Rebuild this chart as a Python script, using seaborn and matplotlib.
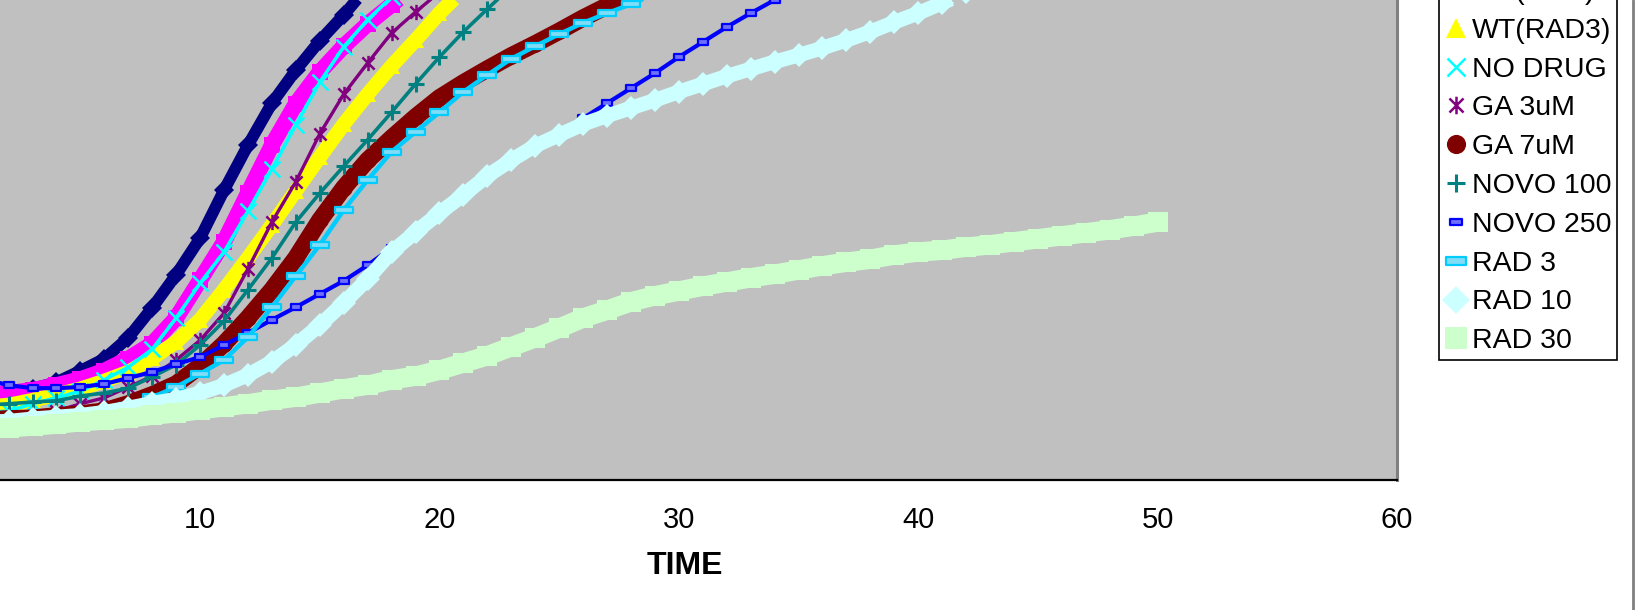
import numpy as np
import pandas as pd
import matplotlib
matplotlib.use("Agg")
import matplotlib.pyplot as plt
from matplotlib.path import Path
from matplotlib.lines import Line2D
import seaborn as sns

# ---- growth curves (time in hours, optical density) ----
TIME = list(range(1, 51))

WT = [0.145, 0.147, 0.152, 0.163, 0.182, 0.202, 0.237, 0.287, 0.342, 0.403,
      0.483, 0.558, 0.628, 0.683, 0.732, 0.775, 0.822]
WT_RAD = [0.142, 0.145, 0.150, 0.158, 0.168, 0.182, 0.202, 0.227, 0.270, 0.333,
          0.397, 0.478, 0.558, 0.627, 0.680, 0.723, 0.760, 0.792, 0.825]
WT_RAD3 = [0.122, 0.125, 0.133, 0.142, 0.152, 0.165, 0.180, 0.203, 0.230, 0.267,
           0.317, 0.370, 0.425, 0.482, 0.538, 0.593, 0.643, 0.690, 0.733, 0.778,
           0.817]
NO_DRUG = [0.112, 0.115, 0.127, 0.137, 0.148, 0.167, 0.188, 0.218, 0.270, 0.328,
           0.380, 0.448, 0.518, 0.592, 0.663, 0.722, 0.767, 0.805]
GA_3 = [0.102, 0.103, 0.107, 0.115, 0.127, 0.137, 0.155, 0.173, 0.200, 0.233,
        0.278, 0.352, 0.430, 0.497, 0.577, 0.643, 0.695, 0.745, 0.780, 0.813]
GA_7 = [0.100, 0.102, 0.103, 0.107, 0.110, 0.115, 0.127, 0.142, 0.160, 0.190,
        0.227, 0.270, 0.317, 0.370, 0.433, 0.487, 0.533, 0.570, 0.605, 0.637,
        0.662, 0.685, 0.707, 0.727, 0.748, 0.770, 0.790, 0.808]
NOVO_100 = [0.125, 0.127, 0.130, 0.132, 0.140, 0.145, 0.153, 0.172, 0.192, 0.225,
            0.265, 0.317, 0.370, 0.430, 0.478, 0.523, 0.567, 0.613, 0.660, 0.705,
            0.747, 0.785, 0.822]
NOVO_250 = [0.168, 0.158, 0.153, 0.153, 0.155, 0.160, 0.170, 0.180, 0.193, 0.205,
            0.225, 0.245, 0.267, 0.288, 0.310, 0.332, 0.358, 0.387, 0.415, 0.443,
            0.473, 0.503, 0.530, 0.555, 0.578, 0.603, 0.628, 0.653, 0.678, 0.705,
            0.730, 0.755, 0.778, 0.800, 0.822]
RAD_3 = [0.095, 0.097, 0.098, 0.102, 0.107, 0.113, 0.123, 0.138, 0.155, 0.177,
         0.200, 0.238, 0.288, 0.340, 0.392, 0.450, 0.500, 0.547, 0.580, 0.613,
         0.647, 0.675, 0.702, 0.723, 0.743, 0.762, 0.778, 0.793, 0.810]
RAD_10 = [0.097, 0.098, 0.102, 0.105, 0.108, 0.113, 0.120, 0.128, 0.135, 0.145,
          0.158, 0.175, 0.197, 0.225, 0.258, 0.295, 0.335, 0.380, 0.413, 0.445,
          0.475, 0.507, 0.533, 0.557, 0.575, 0.593, 0.607, 0.620, 0.633, 0.647,
          0.660, 0.673, 0.685, 0.697, 0.708, 0.720, 0.733, 0.747, 0.763, 0.778,
          0.795, 0.813]
RAD_30 = [0.085, 0.087, 0.090, 0.093, 0.097, 0.100, 0.103, 0.108, 0.112, 0.117,
          0.122, 0.127, 0.133, 0.138, 0.145, 0.152, 0.158, 0.167, 0.173, 0.183,
          0.195, 0.207, 0.222, 0.237, 0.253, 0.270, 0.283, 0.297, 0.307, 0.315,
          0.323, 0.330, 0.337, 0.343, 0.350, 0.357, 0.363, 0.368, 0.375, 0.380,
          0.383, 0.388, 0.392, 0.397, 0.402, 0.407, 0.412, 0.417, 0.423, 0.430]

LABELS = ["WT", "WT(RAD)", "WT(RAD3)", "NO DRUG", "GA 3uM", "GA 7uM",
          "NOVO 100", "NOVO 250", "RAD 3", "RAD 10", "RAD 30"]
SERIES = [WT, WT_RAD, WT_RAD3, NO_DRUG, GA_3, GA_7,
          NOVO_100, NOVO_250, RAD_3, RAD_10, RAD_30]
COLORS = ["#000080", "#FF00FF", "#FFFF00", "#00FFFF", "#800080", "#800000",
          "#008080", "#0000FF", "#00CCFF", "#CCFFFF", "#CCFFCC"]

# ---- custom marker shapes ----
ASTERISK = Path([(-1, -1), (1, 1), (-1, 1), (1, -1), (0, -1.25), (0, 1.25)],
                [Path.MOVETO, Path.LINETO] * 3)
SHORT_BAR = Path([(-1, -0.55), (1, -0.55), (1, 0.55), (-1, 0.55), (-1, -0.55)],
                 [Path.MOVETO, Path.LINETO, Path.LINETO, Path.LINETO, Path.CLOSEPOLY])
LONG_BAR = Path([(-1, -0.35), (1, -0.35), (1, 0.35), (-1, 0.35), (-1, -0.35)],
                [Path.MOVETO, Path.LINETO, Path.LINETO, Path.LINETO, Path.CLOSEPOLY])

# per-series drawing style: line width, marker, marker size, face, edge width
STYLES = [
    dict(lw=8.5, marker="D", ms=10, mfc=None, mew=0),
    dict(lw=11.5, marker="s", ms=11, mfc=None, mew=0),
    dict(lw=10.5, marker="^", ms=12, mfc=None, mew=0),
    dict(lw=2.6, marker="x", ms=11, mfc=None, mew=1.8),
    dict(lw=2.4, marker=ASTERISK, ms=11, mfc="none", mew=1.8),
    dict(lw=12.5, marker="o", ms=12, mfc=None, mew=0),
    dict(lw=2.6, marker="+", ms=11, mfc=None, mew=2.2),
    dict(lw=3.0, marker=SHORT_BAR, ms=7, mfc="#6F6FFF", mew=1.6),
    dict(lw=3.2, marker=LONG_BAR, ms=13, mfc="#7FDDF7", mew=1.6),
    dict(lw=10.5, marker="D", ms=12, mfc=None, mew=0),
    dict(lw=14, marker="s", ms=14, mfc=None, mew=0),
]

sns.set_style("white")
plt.rcParams["font.family"] = ["Liberation Sans", "DejaVu Sans"]
plt.rcParams["text.color"] = "black"

W, H = 1635, 610
fig = plt.figure(figsize=(W / 100, H / 100), dpi=100)
fig.patch.set_facecolor("white")
ax = fig.add_axes([-39.3 / W, 1 - 480 / H, (1397 + 39.3) / W, 480 / H])
ax.set_facecolor("#C0C0C0")

for label, vals, color, st in zip(LABELS, SERIES, COLORS, STYLES):
    df = pd.DataFrame({"TIME": TIME[:len(vals)], "OD": vals})
    sns.lineplot(data=df, x="TIME", y="OD", ax=ax, color=color, lw=st["lw"],
                 marker=st["marker"], markersize=st["ms"],
                 markerfacecolor=(st["mfc"] if st["mfc"] is not None else color),
                 markeredgecolor=color, markeredgewidth=st["mew"],
                 solid_capstyle="butt", legend=False, estimator=None, sort=False)

ax.set_xlim(0, 60)
ax.set_ylim(0, 0.8)
ax.set_xticks(range(10, 61, 10))
ax.set_yticks([])
ax.tick_params(axis="x", direction="out", length=7.5, width=1, color="black",
               labelsize=21, pad=11.5, labelcolor="black")
ax.set_xlabel("TIME", fontsize=23, fontweight="bold", labelpad=12, color="black")
ax.xaxis.label.set_x(0.5044)
ax.set_ylabel("")

for side in ("top", "left"):
    ax.spines[side].set_visible(False)
ax.spines["bottom"].set_color("black")
ax.spines["bottom"].set_linewidth(1.6)
ax.spines["right"].set_color("#808080")
ax.spines["right"].set_linewidth(2.2)

# legend: marker-only entries, the top of the box runs past the figure edge
handles = []
for color, st in zip(COLORS, STYLES):
    face = st["mfc"] if st["mfc"] is not None else color
    handles.append(Line2D([], [], linestyle="none", marker=st["marker"],
                          markersize=st["ms"] * 1.15, markerfacecolor=face,
                          markeredgecolor=color,
                          markeredgewidth=st["mew"]))
leg = fig.legend(handles, LABELS, loc="lower left",
                 bbox_to_anchor=(1439 / W, 1 - 360 / H), borderaxespad=0,
                 fontsize=20.5, frameon=True, fancybox=False, framealpha=1,
                 edgecolor="black", borderpad=0.2, handlelength=0.8,
                 handletextpad=0.15, labelspacing=0.45)
leg.get_frame().set_linewidth(1.2)
for t in leg.get_texts():
    t.set_color("black")

# chart area border on the right
fig.add_artist(Line2D([1633 / W, 1633 / W], [0, 1], transform=fig.transFigure,
                      color="#808080", lw=2))

fig.savefig("out.png", dpi=100, facecolor="white")
